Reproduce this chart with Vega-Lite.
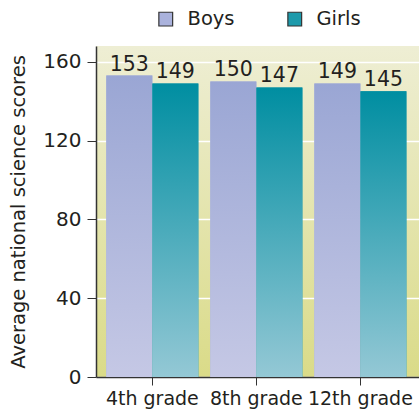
{
  "$schema": "https://vega.github.io/schema/vega-lite/v6.json",
  "width": 323,
  "height": 331,
  "autosize": {"type": "none"},
  "padding": {"left": 96, "top": 46, "right": 0, "bottom": 36},
  "background": "white",
  "config": {
    "font": "DejaVu Sans",
    "view": {
      "stroke": null,
      "fill": {"gradient": "linear", "x1": 0, "y1": 0, "x2": 0, "y2": 1, "stops": [{"offset": 0, "color": "#eeeed4"}, {"offset": 1, "color": "#dadb88"}]}
    }
  },
  "data": {
    "values": [
      {"grade": "4th grade", "sex": "Boys", "score": 153},
      {"grade": "4th grade", "sex": "Girls", "score": 149},
      {"grade": "8th grade", "sex": "Boys", "score": 150},
      {"grade": "8th grade", "sex": "Girls", "score": 147},
      {"grade": "12th grade", "sex": "Boys", "score": 149},
      {"grade": "12th grade", "sex": "Girls", "score": 145}
    ]
  },
  "encoding": {
    "x": {
      "field": "grade", "type": "nominal", "sort": ["4th grade", "8th grade", "12th grade"],
      "scale": {"paddingInner": 0.115, "paddingOuter": 0.11, "align": 0.45},
      "axis": {"title": null, "labelAngle": 0, "labelFontSize": 19, "labelColor": "#231f20", "domainColor": "#333", "domainWidth": 1.5, "tickColor": "#333", "tickSize": 8, "labelPadding": 4, "labelFont": "DejaVu Sans"}
    },
    "xOffset": {"field": "sex", "type": "nominal", "sort": ["Boys", "Girls"], "scale": {"paddingInner": 0, "paddingOuter": 0}},
    "y": {
      "field": "score", "type": "quantitative",
      "scale": {"domain": [0, 168], "nice": false},
      "axis": {"values": [0, 40, 80, 120, 160], "title": "Average national science scores", "titleFont": "DejaVu Sans", "titleFontSize": 19.5, "titleFontWeight": "normal", "titleColor": "#231f20", "titlePadding": 14, "labelFontSize": 20, "labelColor": "#231f20", "labelFont": "DejaVu Sans", "labelPadding": 6, "domainColor": "#333", "domainWidth": 1.5, "tickColor": "#333", "tickSize": 9, "grid": true, "gridColor": "white", "gridWidth": 1.5}
    }
  },
  "layer": [
    {
      "mark": {"type": "bar"},
      "encoding": {
        "color": {
          "field": "sex", "type": "nominal",
          "scale": {"domain": ["Boys", "Girls"], "range": ["#aab2dc", "#1d9aab"]},
          "legend": {"title": null, "orient": "none", "direction": "horizontal", "legendX": 60, "legendY": -37, "symbolType": "square", "symbolSize": 190, "symbolStrokeColor": "#333", "symbolStrokeWidth": 1.2, "symbolOpacity": 1, "labelFontSize": 19.5, "labelColor": "#231f20", "labelOffset": 12, "columnPadding": 50, "labelFont": "DejaVu Sans"}
        }
      }
    },
    {
      "mark": {"type": "bar"},
      "encoding": {
        "fill": {
          "condition": {"test": "datum.sex === 'Boys'", "value": {"gradient": "linear", "x1": 0, "y1": 0, "x2": 0, "y2": 1, "stops": [{"offset": 0, "color": "#9aa6d4"}, {"offset": 1, "color": "#c5c8e5"}]}},
          "value": {"gradient": "linear", "x1": 0, "y1": 0, "x2": 0, "y2": 1, "stops": [{"offset": 0, "color": "#008ea1"}, {"offset": 1, "color": "#94c8d5"}]}
        }
      }
    },
    {
      "mark": {"type": "text", "baseline": "bottom", "dy": -1, "fontSize": 20.5, "color": "#231f20", "font": "DejaVu Sans"},
      "encoding": {"text": {"field": "score", "type": "quantitative"}}
    }
  ]
}
